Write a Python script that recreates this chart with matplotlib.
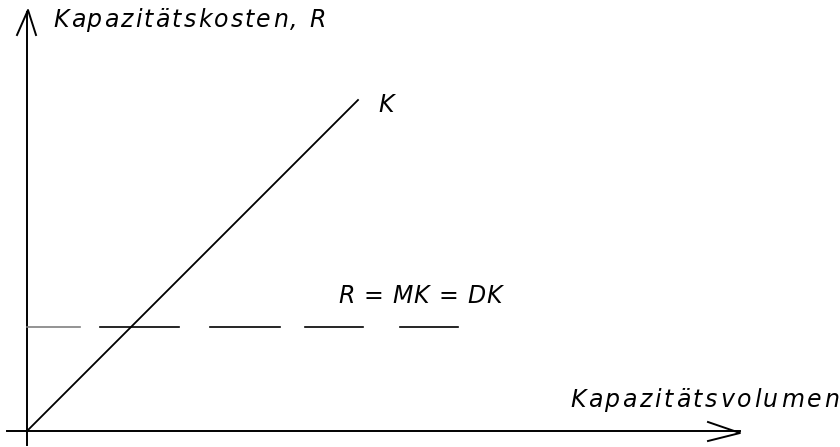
import matplotlib.pyplot as plt

# data (pixel-like units, origin at the axes crossing)
k_line_x = [0, 331]
k_line_y = [0, 331]
r_level = 104
r_dash_start = [0, 73, 183, 278, 373]
r_dash_end = [53, 152, 253, 336, 431]

x_label = 'Kapazitätsvolumen'
y_label = 'Kapazitätskosten, R'
k_label = 'K'
r_label = 'R = MK = DK'

fig = plt.figure(figsize=(8.4, 4.47), dpi=100)
ax = fig.add_axes([0, 0, 1, 1])
ax.set_xlim(-27, 813)
ax.set_ylim(-16, 431)
ax.axis('off')
renderer = fig.canvas.get_renderer()
fs = 17


def spaced_text(x, y, s, track):
    # the original lettering is widely spaced, so set it char by char
    def w(t):
        tt = ax.text(0, 0, t, fontsize=fs, style='italic')
        ww = tt.get_window_extent(renderer).width
        tt.remove()
        return ww
    bar = w('|')
    for i, ch in enumerate(s):
        if ch == ' ':
            continue
        off = (w(s[:i] + '|') - bar if i else 0) + i * track
        ax.annotate(ch, (x, y), xytext=(off, 0), textcoords='offset pixels',
                    fontsize=fs, style='italic', va='baseline', ha='left')


# axes with open arrowheads
ax.plot([-20, 713], [0, 0], color='black', lw=1.4)
ax.plot([681, 713, 681], [9, -2, -10], color='black', lw=1.4)
ax.plot([0, 0], [-14, 419], color='black', lw=1.4)
ax.plot([-10, 1, 9], [396, 421, 396], color='black', lw=1.4)

# K line
ax.plot(k_line_x, k_line_y, color='black', lw=1.3)

# R = MK = DK dashed level
for i, (a, b) in enumerate(zip(r_dash_start, r_dash_end)):
    ax.plot([a, b], [r_level, r_level], color='0.5' if i == 0 else 'black', lw=1.2)

spaced_text(26, 404, y_label, 2.2)
spaced_text(543, 24, x_label, 2.7)
spaced_text(351, 319, k_label, 0)
spaced_text(311, 128, r_label, 0.8)

fig.savefig('out.png', dpi=100)
